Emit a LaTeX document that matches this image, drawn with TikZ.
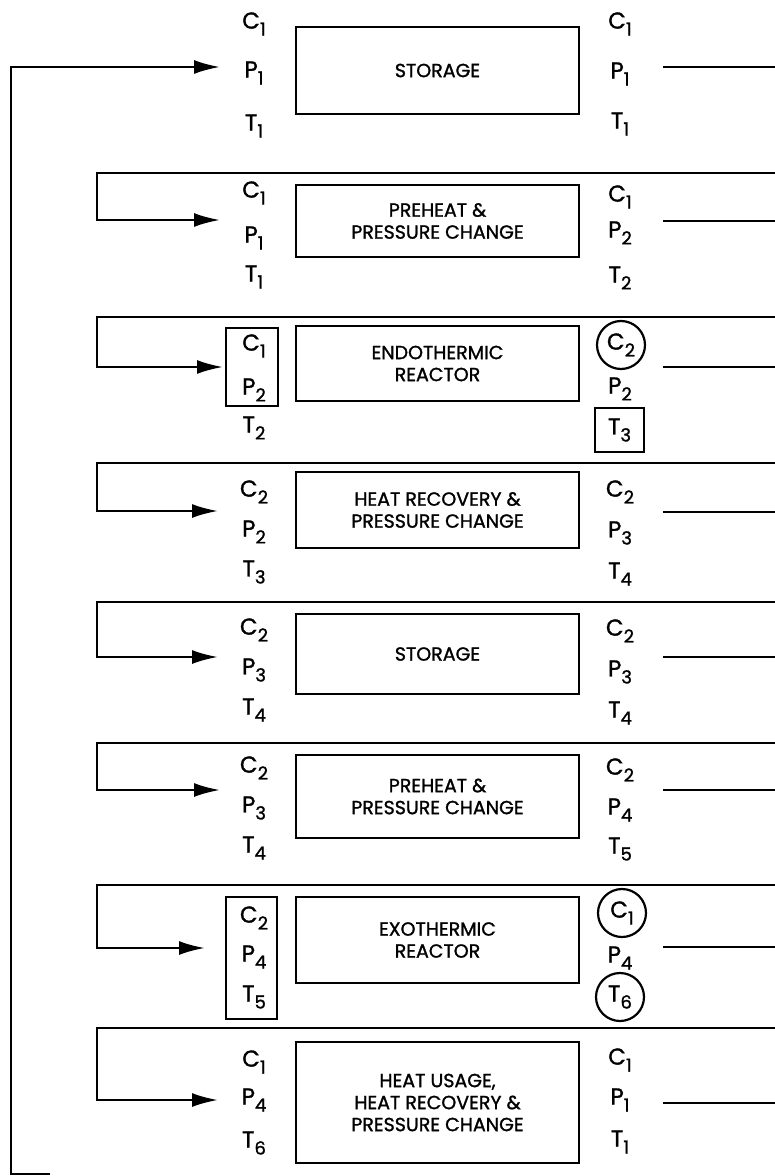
\documentclass[tikz,border=0pt]{standalone}
\usepackage{fontspec}
\setsansfont{Poppins}[BoldFont=Poppins, BoldFeatures={FakeBold=1.3}]
\usetikzlibrary{arrows.meta}
\newcommand{\lowidx}[1]{\raisebox{-3.5pt}{\fontsize{9}{9}\selectfont #1}}

\begin{document}
\begin{tikzpicture}[
  x=0.5pt, y=-0.5pt,
  font=\sffamily\bfseries,
  unitbox/.style={rectangle, draw, line width=0.9pt, minimum width=141.5pt, align=center, font=\sffamily\bfseries\fontsize{9.5}{11}\selectfont},
  lbl/.style={inner sep=1pt, font=\sffamily\bfseries\fontsize{11.5}{12}\selectfont},
  grpframe/.style={rectangle, draw, line width=1.2pt},
  ring/.style={circle, draw, line width=1.1pt, minimum size=24pt, inner sep=0pt},
  tbox/.style={rectangle, draw, line width=1.2pt, minimum width=24.5pt, minimum height=22pt, inner sep=0pt},
  flow/.style={-{Latex[length=13pt, width=7pt]}, line width=1.2pt},
  pipe/.style={line width=1.2pt}
]
\useasboundingbox (0,0) rectangle (775,1176);
\node[unitbox, minimum height=43.5pt] (storage1) at (437.5,70.5) {STORAGE};
\node[unitbox, minimum height=36pt] (preheat1) at (437.5,221) {PREHEAT \&\\PRESSURE CHANGE};
\node[unitbox, minimum height=37.5pt] (endo) at (437.5,363.5) {ENDOTHERMIC\\REACTOR};
\node[unitbox, minimum height=38pt] (recovery) at (437.5,510) {HEAT RECOVERY \&\\PRESSURE CHANGE};
\node[unitbox, minimum height=40pt] (storage2) at (437.5,654) {STORAGE};
\node[unitbox, minimum height=41.5pt] (preheat2) at (437.5,796.5) {PREHEAT \&\\PRESSURE CHANGE};
\node[unitbox, minimum height=43pt] (exo) at (437.5,940) {EXOTHERMIC\\REACTOR};
\node[unitbox, minimum height=60.5pt] (usage) at (437.5,1102.5) {HEAT USAGE,\\HEAT RECOVERY \&\\PRESSURE CHANGE};

\node[lbl] (c1in) at (254,24) {C\lowidx{1}};
\node[lbl] (p1in) at (254,73) {P\lowidx{1}};
\node[lbl] (t1in) at (254,126) {T\lowidx{1}};
\node[lbl] (c1out) at (620,24) {C\lowidx{1}};
\node[lbl] (p1out) at (620,74) {P\lowidx{1}};
\node[lbl] (t1out) at (620,124) {T\lowidx{1}};

\node[lbl] (c2in) at (254,193) {C\lowidx{1}};
\node[lbl] (p2in) at (254,238) {P\lowidx{1}};
\node[lbl] (t2in) at (254,277) {T\lowidx{1}};
\node[lbl] (c2out) at (620,197) {C\lowidx{1}};
\node[lbl] (p2out) at (620,233) {P\lowidx{2}};
\node[lbl] (t2out) at (620,278) {T\lowidx{2}};

\node[grpframe, minimum width=26pt, minimum height=39pt] (grp3) at (252,367) {};
\node[lbl] (c3in) at (254,346) {C\lowidx{1}};
\node[lbl] (p3in) at (254,390) {P\lowidx{2}};
\node[lbl] (t3in) at (254,428) {T\lowidx{2}};
\node[lbl, ring] (c3out) at (621,345) {C\lowidx{2}};
\node[lbl] (p3out) at (620,389) {P\lowidx{2}};
\node[lbl, tbox] (t3out) at (619.5,430) {T\lowidx{3}};

\node[lbl] (c4in) at (254,492) {C\lowidx{2}};
\node[lbl] (p4in) at (254,532) {P\lowidx{2}};
\node[lbl] (t4in) at (254,572) {T\lowidx{3}};
\node[lbl] (c4out) at (620,492) {C\lowidx{2}};
\node[lbl] (p4out) at (620,533) {P\lowidx{3}};
\node[lbl] (t4out) at (620,574) {T\lowidx{4}};

\node[lbl] (c5in) at (254,630) {C\lowidx{2}};
\node[lbl] (p5in) at (254,670) {P\lowidx{3}};
\node[lbl] (t5in) at (254,710) {T\lowidx{4}};
\node[lbl] (c5out) at (620,631) {C\lowidx{2}};
\node[lbl] (p5out) at (620,672) {P\lowidx{3}};
\node[lbl] (t5out) at (620,713) {T\lowidx{4}};

\node[lbl] (c6in) at (254,768) {C\lowidx{2}};
\node[lbl] (p6in) at (254,808) {P\lowidx{3}};
\node[lbl] (t6in) at (254,848) {T\lowidx{4}};
\node[lbl] (c6out) at (620,770) {C\lowidx{2}};
\node[lbl] (p6out) at (620,810) {P\lowidx{4}};
\node[lbl] (t6out) at (620,849) {T\lowidx{5}};

\node[grpframe, minimum width=25.5pt, minimum height=61pt] (grp7) at (251.5,958) {};
\node[lbl] (c7in) at (254,918) {C\lowidx{2}};
\node[lbl] (p7in) at (254,957) {P\lowidx{4}};
\node[lbl] (t7in) at (254,997) {T\lowidx{5}};
\node[lbl, ring] (c7out) at (622,913) {C\lowidx{1}};
\node[lbl] (p7out) at (620,958) {P\lowidx{4}};
\node[lbl, ring] (t7out) at (620,997) {T\lowidx{6}};

\node[lbl] (c8in) at (254,1062) {C\lowidx{1}};
\node[lbl] (p8in) at (254,1100) {P\lowidx{4}};
\node[lbl] (t8in) at (254,1143) {T\lowidx{6}};
\node[lbl] (c8out) at (620,1060) {C\lowidx{1}};
\node[lbl] (p8out) at (620,1100) {P\lowidx{1}};
\node[lbl] (t8out) at (620,1142) {T\lowidx{1}};

\coordinate (edgeL) at (97,0);
\coordinate (edgeR) at (775,0);
\coordinate (back) at (50,1174);
\coordinate (corner) at (11,1174);
\coordinate (in1) at (220,67);
\coordinate (in2) at (220,220);
\coordinate (in3) at (223,367);
\coordinate (in4) at (218,511);
\coordinate (in5) at (218,657);
\coordinate (in6) at (220,790);
\coordinate (in7) at (205,948);
\coordinate (in8) at (218,1100);
\coordinate (top2) at (775,173);
\coordinate (top3) at (775,317);
\coordinate (top4) at (775,463);
\coordinate (top5) at (775,602);
\coordinate (top6) at (775,743);
\coordinate (top7) at (775,885);
\coordinate (top8) at (775,1028);
\coordinate (out1) at (663,67);
\coordinate (out2) at (663,221);
\coordinate (out3) at (663,367);
\coordinate (out4) at (663,512);
\coordinate (out5) at (663,657);
\coordinate (out6) at (663,790);
\coordinate (out7) at (663,947);
\coordinate (out8) at (663,1103);

\draw[flow] (back) -- (corner) |- (in1);
\draw[flow] (top2) -- (top2 -| edgeL) |- (in2);
\draw[flow] (top3) -- (top3 -| edgeL) |- (in3);
\draw[flow] (top4) -- (top4 -| edgeL) |- (in4);
\draw[flow] (top5) -- (top5 -| edgeL) |- (in5);
\draw[flow] (top6) -- (top6 -| edgeL) |- (in6);
\draw[flow] (top7) -- (top7 -| edgeL) |- (in7);
\draw[flow] (top8) -- (top8 -| edgeL) |- (in8);
\draw[pipe] (out1) -- (out1 -| edgeR);
\draw[pipe] (out2) -- (out2 -| edgeR);
\draw[pipe] (out3) -- (out3 -| edgeR);
\draw[pipe] (out4) -- (out4 -| edgeR);
\draw[pipe] (out5) -- (out5 -| edgeR);
\draw[pipe] (out6) -- (out6 -| edgeR);
\draw[pipe] (out7) -- (out7 -| edgeR);
\draw[pipe] (out8) -- (out8 -| edgeR);
\end{tikzpicture}
\end{document}
